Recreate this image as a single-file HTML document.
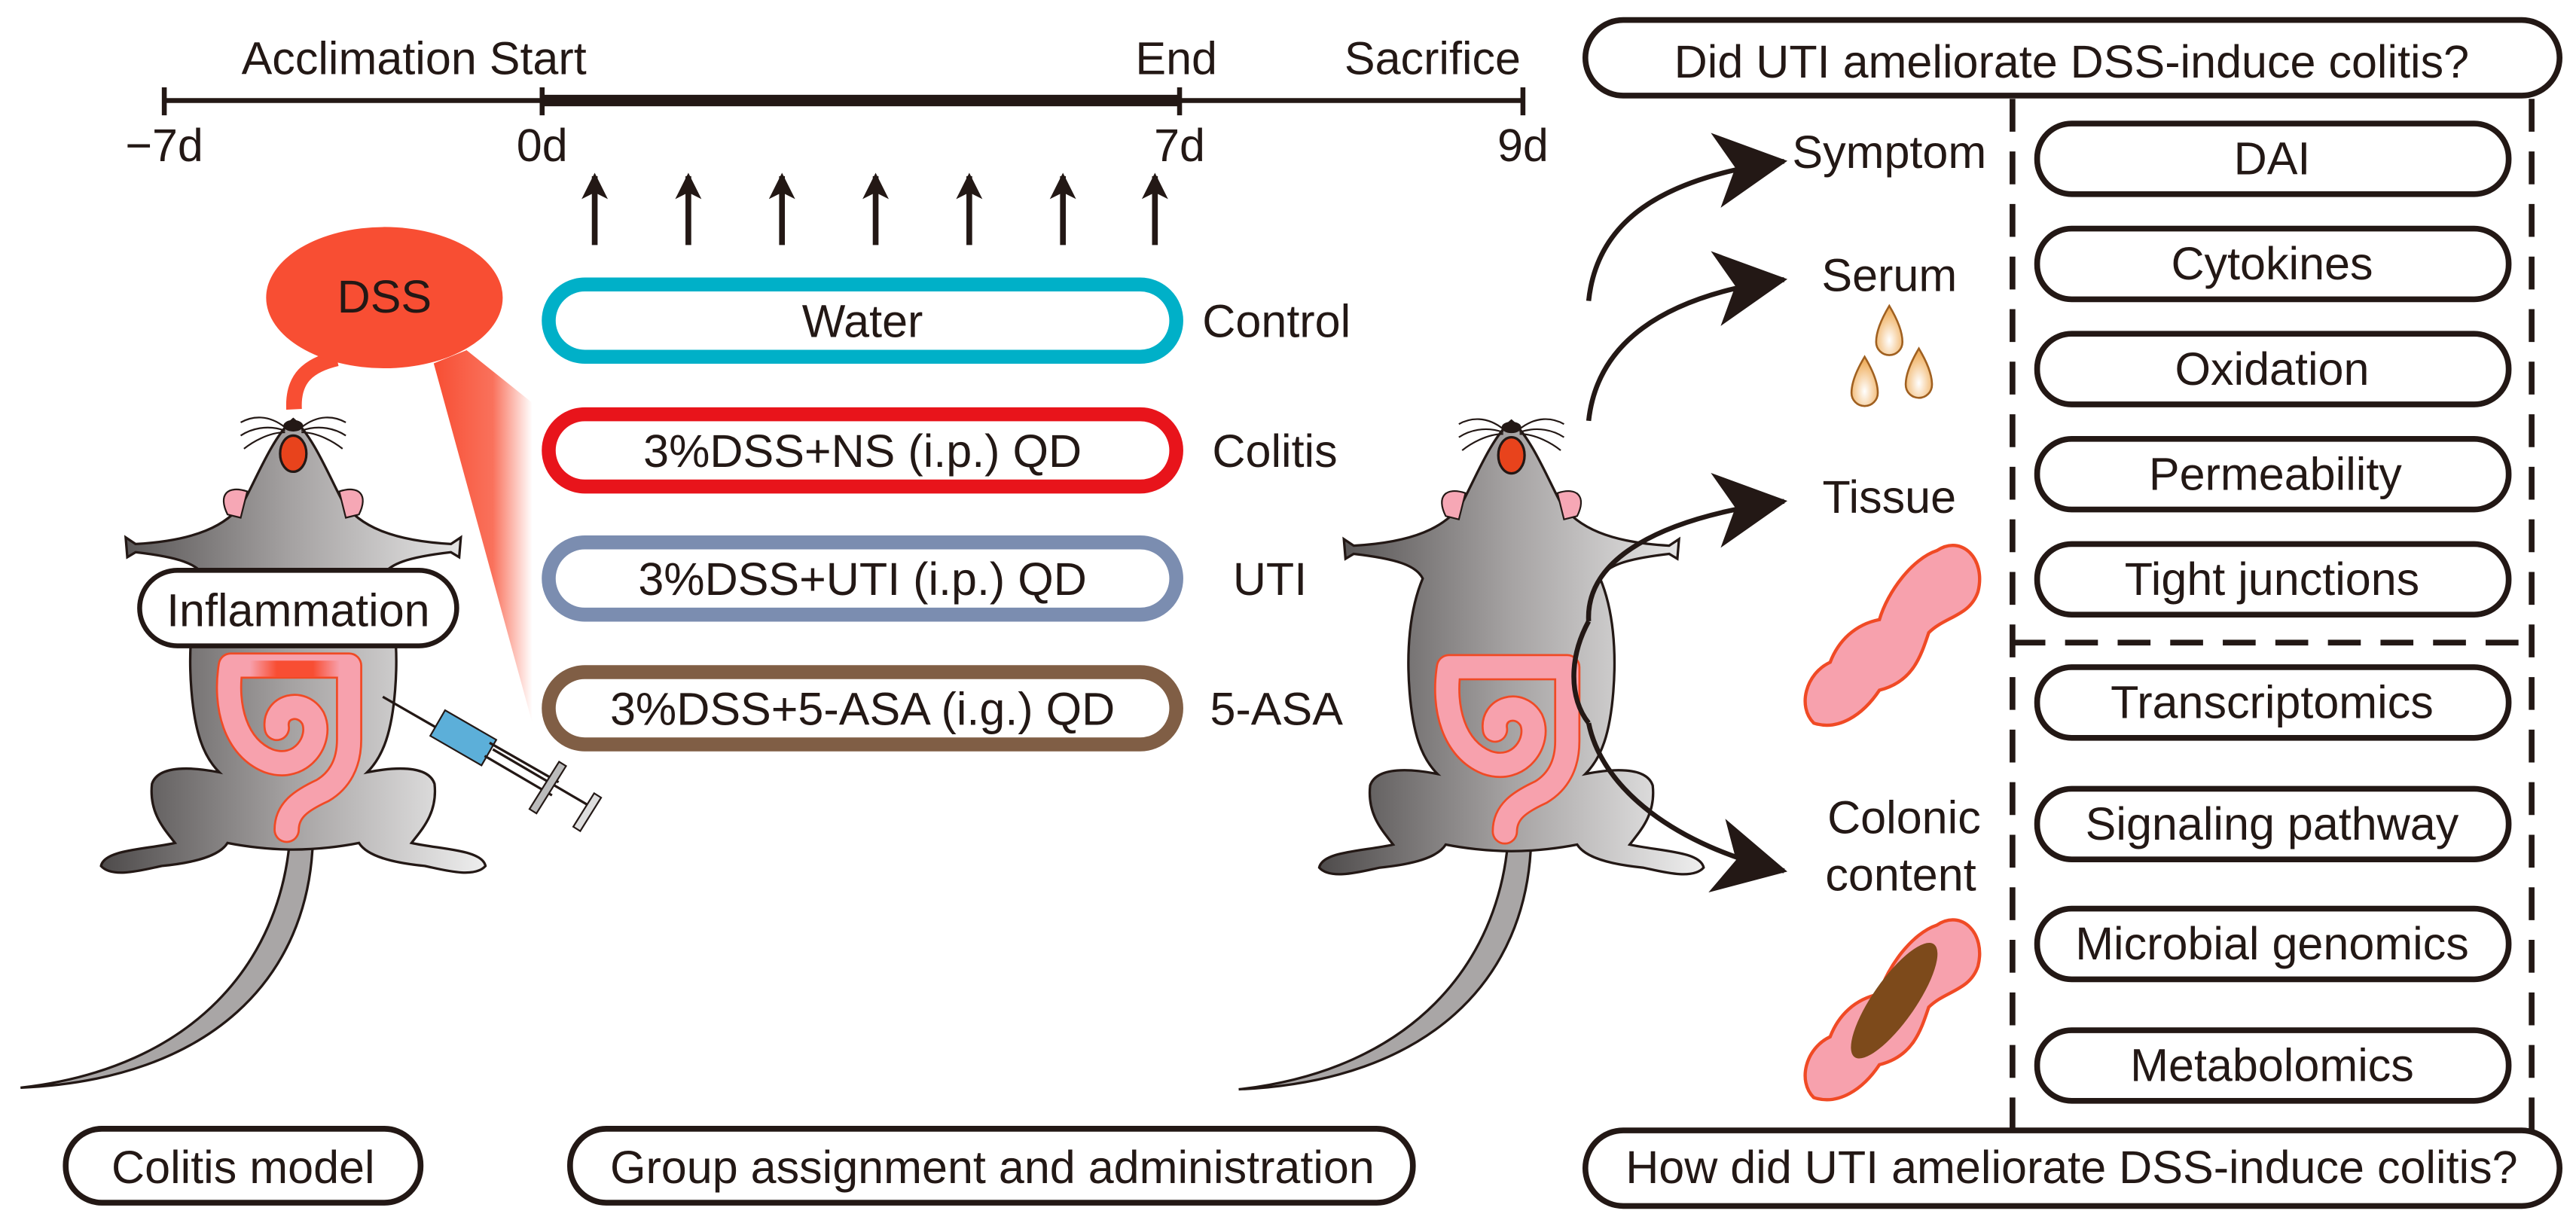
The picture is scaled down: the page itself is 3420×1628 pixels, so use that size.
<!DOCTYPE html>
<html><head><meta charset="utf-8"><style>
html,body{margin:0;padding:0;background:#fff;}
svg{display:block;}
text{font-family:"Liberation Sans",sans-serif;fill:#231815;}
</style></head><body>
<svg width="3420" height="1628" viewBox="0 0 1568 746" xmlns="http://www.w3.org/2000/svg">
<defs>
<linearGradient id="cone" x1="0" y1="0" x2="1" y2="0">
<stop offset="0" stop-color="#f84e33"/><stop offset="0.6" stop-color="#f84e33" stop-opacity="0.8"/><stop offset="1" stop-color="#f84e33" stop-opacity="0"/>
</linearGradient>
<linearGradient id="body" x1="0" y1="0" x2="1" y2="0">
<stop offset="0" stop-color="#4e4b4b"/><stop offset="0.5" stop-color="#a6a3a3"/><stop offset="1" stop-color="#eeeeee"/>
</linearGradient>
<linearGradient id="spot" x1="0" y1="0" x2="1" y2="0">
<stop offset="0" stop-color="#f84e33" stop-opacity="0"/><stop offset="0.3" stop-color="#f84e33"/><stop offset="0.7" stop-color="#f84e33"/><stop offset="1" stop-color="#f84e33" stop-opacity="0"/>
</linearGradient>
<radialGradient id="drop" cx="0.5" cy="0.7" r="0.6">
<stop offset="0" stop-color="#fff"/><stop offset="1" stop-color="#f0b060"/>
</radialGradient>
<marker id="ah" markerWidth="16" markerHeight="16" refX="14" refY="8" orient="auto" markerUnits="userSpaceOnUse">
<path d="M0,0 L16,8 L0,16 L4,8Z" fill="#231815"/></marker>
<marker id="bh" markerWidth="46" markerHeight="46" refX="42" refY="23" orient="auto" markerUnits="userSpaceOnUse">
<path d="M0,0 L44,23 L0,46 L12,23Z" fill="#231815"/></marker>
<g id="mouse">
<path d="M-2,255 C-8,330 -60,395 -166,407 C-50,402 10,340 12,255Z" fill="#a9a6a6" stroke="#231815" stroke-width="1.5"/>
<path d="M0,0 C-12,10 -22,35 -30,50 C-40,65 -60,74 -96,76 L-102,72 L-101,84 L-96,81 C-70,84 -58,88 -54,96 C-62,115 -64,140 -62,165 C-60,190 -55,205 -45,215 C-60,212 -82,210 -86,222 C-88,240 -78,250 -72,258 C-90,262 -115,262 -117,272 C-110,280 -90,274 -80,272 C-60,270 -45,266 -40,258 C-30,260 -15,262 0,262 C15,262 30,260 40,258 C45,266 60,270 80,272 C90,274 110,280 117,272 C115,262 90,262 72,258 C78,250 88,240 86,222 C82,210 60,212 45,215 C55,205 60,190 62,165 C64,140 62,115 54,96 C58,88 70,84 96,81 L101,84 L102,72 L96,76 C60,74 40,65 30,50 C22,35 12,10 0,0Z" fill="url(#body)" stroke="#231815" stroke-width="1.5"/>
<path d="M-28,44 C-40,40 -46,46 -40,58 L-32,60Z" fill="#f6a7b5" stroke="#231815"/>
<path d="M28,44 C40,40 46,46 40,58 L32,60Z" fill="#f6a7b5" stroke="#231815"/>
<ellipse cx="0" cy="21" rx="8" ry="11" fill="#e8431c" stroke="#231815" stroke-width="1.5"/>
<ellipse cx="0" cy="4" rx="6" ry="3.5" fill="#231815"/>
<path d="M-5,5 C-15,-3 -25,-2 -32,2 M-5,7 C-16,3 -26,6 -32,10 M-5,8 C-15,8 -25,14 -30,18 M5,5 C15,-3 25,-2 32,2 M5,7 C16,3 26,6 32,10 M5,8 C15,8 25,14 30,18" stroke="#231815" fill="none" stroke-width="1"/>
<path d="M-4,250 C-4,238 5,232 18,226 C28,220 34,210 34,195 L34,150 L-38,150 C-42,175 -35,200 -15,208 C5,215 18,195 12,182 C5,170 -12,175 -10,188" stroke="#f04a25" stroke-width="16" fill="none" stroke-linecap="round" stroke-linejoin="round"/>
<path d="M-4,250 C-4,238 5,232 18,226 C28,220 34,210 34,195 L34,150 L-38,150 C-42,175 -35,200 -15,208 C5,215 18,195 12,182 C5,170 -12,175 -10,188" stroke="#f7a1ad" stroke-width="13.5" fill="none" stroke-linecap="round" stroke-linejoin="round"/>
</g>
<g id="tissue">
<path d="M40,-50 C55,-60 70,-45 65,-25 C60,-10 45,-10 35,0 C30,15 25,30 5,35 C-5,50 -20,60 -35,55 C-45,45 -40,25 -25,18 C-20,5 -10,-5 5,-8 C10,-25 25,-45 40,-50Z" fill="#f7a1ad" stroke="#f04a25" stroke-width="2"/>
</g>
</defs>

<!-- timeline -->
<line x1="100" y1="61" x2="927" y2="61" stroke="#231815" stroke-width="3"/>
<line x1="330" y1="61" x2="718" y2="61" stroke="#231815" stroke-width="7"/>
<g stroke="#231815" stroke-width="3"><line x1="100" y1="53" x2="100" y2="70"/><line x1="330" y1="53" x2="330" y2="70"/><line x1="718" y1="53" x2="718" y2="70"/><line x1="927" y1="53" x2="927" y2="70"/></g>
<g font-size="28" text-anchor="middle">
<text x="252" y="45">Acclimation Start</text>
<text x="716" y="45">End</text>
<text x="872" y="45">Sacrifice</text>
<text x="100" y="98">−7d</text>
<text x="330" y="98">0d</text>
<text x="718" y="98">7d</text>
<text x="927" y="98">9d</text>
</g>
<g stroke="#231815" stroke-width="3.5" marker-end="url(#ah)">
<line x1="362" y1="149" x2="362" y2="107"/><line x1="419" y1="149" x2="419" y2="107"/><line x1="476" y1="149" x2="476" y2="107"/><line x1="533" y1="149" x2="533" y2="107"/><line x1="590" y1="149" x2="590" y2="107"/><line x1="647" y1="149" x2="647" y2="107"/><line x1="703" y1="149" x2="703" y2="107"/>
</g>

<!-- mice -->
<use href="#mouse" x="178.5" y="255"/>
<use href="#mouse" x="920" y="256"/>
<rect x="152" y="402" width="55" height="10" fill="url(#spot)"/>

<!-- DSS -->
<polygon points="264,221 284,213 324,245 324,440" fill="url(#cone)"/>
<path d="M179,249 C178,230 188,222 205,218" stroke="#f84e33" stroke-width="9.5" fill="none"/>
<ellipse cx="234" cy="181" rx="72" ry="43" fill="#f84e33"/>
<text x="234" y="190" font-size="28" text-anchor="middle">DSS</text>

<!-- syringe -->
<line x1="233" y1="424" x2="266" y2="443" stroke="#231815" stroke-width="1.5"/>
<rect x="264" y="440" width="36" height="18" fill="#5cafd9" stroke="#231815" transform="rotate(30 282 449)"/>
<path d="M298,452 L340,476 M295,460 L336,484" stroke="#231815" stroke-width="1.5"/>
<line x1="300" y1="456" x2="358" y2="490" stroke="#231815" stroke-width="1.5"/>
<rect x="331" y="462" width="5" height="34" fill="#bbb" stroke="#231815" stroke-width="1" transform="rotate(32 333 479)"/>
<rect x="355" y="482" width="5" height="24" fill="#ddd" stroke="#231815" stroke-width="1" transform="rotate(32 357 494)"/>

<rect x="85" y="347" width="193" height="46" rx="23" fill="#fff" stroke="#231815" stroke-width="3"/>
<text x="181.5" y="381" font-size="28" text-anchor="middle">Inflammation</text>

<!-- group boxes -->
<g fill="#fff" stroke-width="8.5">
<rect x="334" y="173" width="382" height="44" rx="22" stroke="#00b0c8"/>
<rect x="334" y="252" width="382" height="44" rx="22" stroke="#e8141b"/>
<rect x="334" y="330" width="382" height="44" rx="22" stroke="#7b8db0"/>
<rect x="334" y="409" width="382" height="44" rx="22" stroke="#805e45"/>
</g>
<g font-size="28" text-anchor="middle">
<text x="525" y="205">Water</text>
<text x="525" y="284">3%DSS+NS (i.p.) QD</text>
<text x="525" y="362">3%DSS+UTI (i.p.) QD</text>
<text x="525" y="441">3%DSS+5-ASA (i.g.) QD</text>
<text x="777" y="205">Control</text>
<text x="776" y="284">Colitis</text>
<text x="773" y="362">UTI</text>
<text x="777" y="441">5-ASA</text>
</g>

<!-- bottom labels -->
<g fill="#fff" stroke="#231815" stroke-width="3.5">
<rect x="40" y="687" width="216" height="45" rx="22"/>
<rect x="347" y="687" width="513" height="45" rx="22"/>
<rect x="965" y="12" width="593" height="46" rx="23"/>
<rect x="965" y="688" width="593" height="46" rx="23"/>
</g>
<g font-size="28" text-anchor="middle">
<text x="148" y="720">Colitis model</text>
<text x="604" y="720">Group assignment and administration</text>
<text x="1261" y="47">Did UTI ameliorate DSS-induce colitis?</text>
<text x="1261" y="720">How did UTI ameliorate DSS-induce colitis?</text>
</g>

<!-- right side -->
<g stroke="#231815" stroke-width="3.5" fill="none" stroke-dasharray="20,12">
<line x1="1225" y1="60" x2="1225" y2="688"/><line x1="1541" y1="60" x2="1541" y2="688"/>
<line x1="1225" y1="391" x2="1541" y2="391"/>
</g>
<g stroke="#231815" stroke-width="3" fill="none">
<path d="M967,183 C972,135 1010,108 1086,98" marker-end="url(#bh)"/>
<path d="M967,256 C972,210 1010,180 1086,170" marker-end="url(#bh)"/>
<path d="M967,378 C965,340 1010,315 1086,305" marker-end="url(#bh)"/>
<path d="M967,440 C975,480 1020,515 1086,530" marker-end="url(#bh)"/>
</g>
<path d="M967,378 C955,400 955,425 967,440" stroke="#231815" stroke-width="3" fill="none"/>
<g font-size="28" text-anchor="middle">
<text x="1150" y="102">Symptom</text>
<text x="1150" y="177">Serum</text>
<text x="1150" y="312">Tissue</text>
<text x="1159" y="507">Colonic</text>
<text x="1157" y="542">content</text>
</g>
<g fill="url(#drop)" stroke="#a06020" stroke-width="1.2">
<path d="M1150,186 C1144,196 1142,203 1142,208 A8,8 0 0 0 1158,208 C1158,203 1156,196 1150,186Z"/>
<path d="M1135,217 C1129,227 1127,234 1127,239 A8,8 0 0 0 1143,239 C1143,234 1141,227 1135,217Z"/>
<path d="M1168,212 C1162,222 1160,229 1160,234 A8,8 0 0 0 1176,234 C1176,229 1174,222 1168,212Z"/>
</g>
<use href="#tissue" x="1139" y="385"/>
<use href="#tissue" x="1139" y="613"/>
<ellipse cx="1153" cy="609" rx="13" ry="42" fill="#7d4a1b" transform="rotate(35 1153 609)"/>
<g fill="#fff" stroke="#231815" stroke-width="3.5">
<rect x="1240" y="75" width="287" height="43" rx="21"/>
<rect x="1240" y="139" width="287" height="43" rx="21"/>
<rect x="1240" y="203" width="287" height="43" rx="21"/>
<rect x="1240" y="267" width="287" height="43" rx="21"/>
<rect x="1240" y="331" width="287" height="43" rx="21"/>
<rect x="1240" y="406" width="287" height="43" rx="21"/>
<rect x="1240" y="480" width="287" height="43" rx="21"/>
<rect x="1240" y="553" width="287" height="43" rx="21"/>
<rect x="1240" y="627" width="287" height="43" rx="21"/>
</g>
<g font-size="28" text-anchor="middle">
<text x="1383" y="106">DAI</text>
<text x="1383" y="170">Cytokines</text>
<text x="1383" y="234">Oxidation</text>
<text x="1385" y="298">Permeability</text>
<text x="1383" y="362">Tight junctions</text>
<text x="1383" y="437">Transcriptomics</text>
<text x="1383" y="511">Signaling pathway</text>
<text x="1383" y="584">Microbial genomics</text>
<text x="1383" y="658">Metabolomics</text>
</g>
</svg>
</body></html>
